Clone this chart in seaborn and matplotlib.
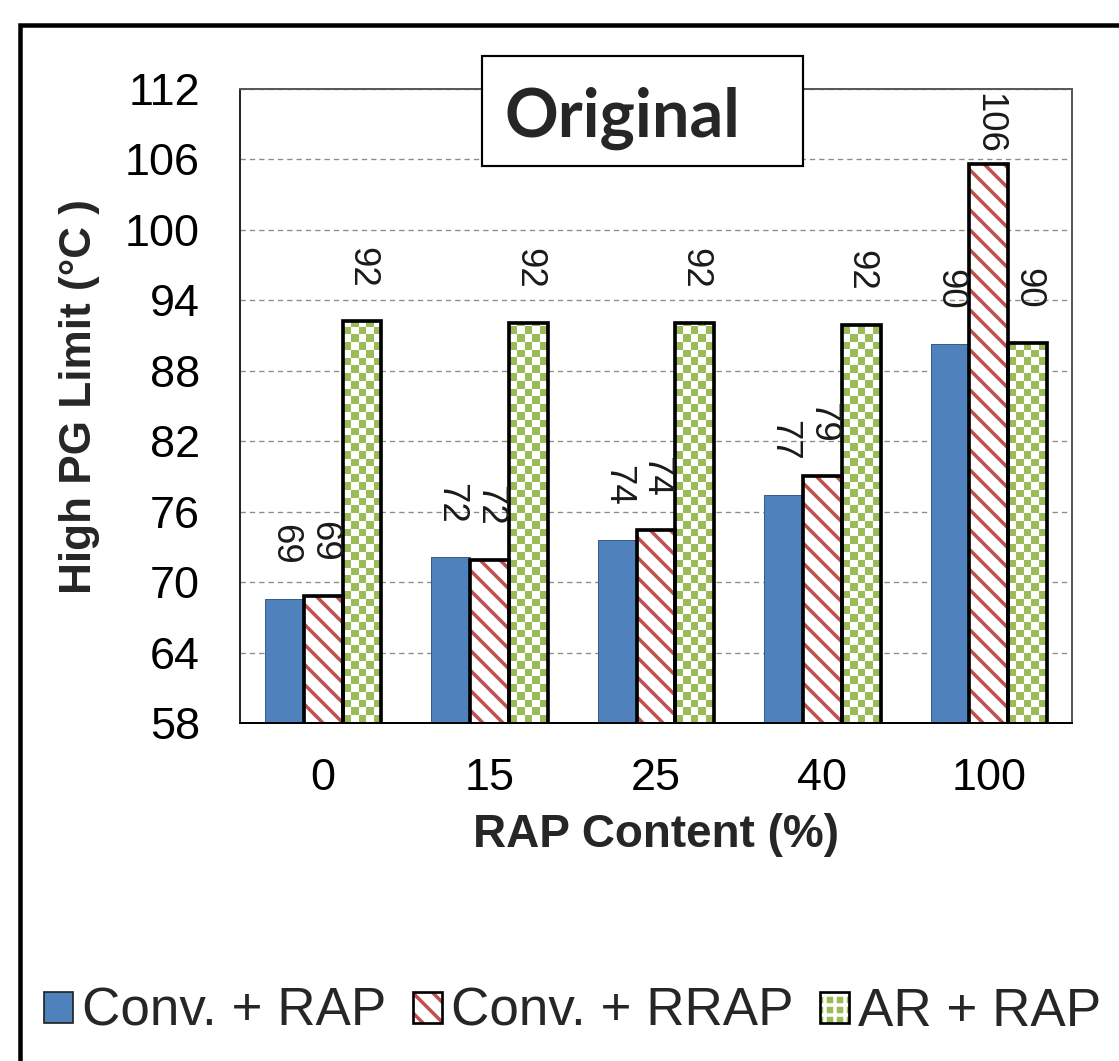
import numpy as np
import pandas as pd
import matplotlib
matplotlib.use("Agg")
import matplotlib.pyplot as plt
from matplotlib.patches import Rectangle, Patch
from matplotlib.legend_handler import HandlerTuple
import seaborn as sns

# ---- data -------------------------------------------------------------
rap_content = ["0", "15", "25", "40", "100"]
series_names = ["Conv. + RAP", "Conv. + RRAP", "AR + RAP"]
conv_rap = [68.6, 72.1, 73.6, 77.4, 90.3]
conv_rrap = [68.8, 71.9, 74.4, 79.0, 105.6]
ar_rap = [92.2, 92.1, 92.1, 91.9, 90.4]
y_ticks = [58, 64, 70, 76, 82, 88, 94, 100, 106, 112]

BLUE = "#4F81BD"
RED = "#C0504D"
GREEN = "#9BBB59"

df = pd.DataFrame({
    "rap": rap_content * 3,
    "limit": conv_rap + conv_rrap + ar_rap,
    "series": [s for s in series_names for _ in rap_content],
})

# ---- figure -----------------------------------------------------------
sns.set_theme(style="white")
plt.rcParams["font.family"] = ["Liberation Sans", "DejaVu Sans"]
plt.rcParams["hatch.linewidth"] = 2.1

DPI = 120
W, H = 1119, 1061
fig = plt.figure(figsize=(W / DPI, H / DPI), dpi=DPI)
fig.patch.set_facecolor("white")

def fx(px):
    return px / W

def fy(py):
    return 1 - py / H

ax = fig.add_axes([fx(240), fy(723), fx(832), (723 - 89) / H])

sns.barplot(data=df, x="rap", y="limit", hue="series", order=rap_content,
            hue_order=series_names, palette=[BLUE, RED, GREEN],
            width=0.7, saturation=1, legend=False, ax=ax, zorder=2)

ax.set_ylim(y_ticks[0], y_ticks[-1])
ax.set_xlim(-0.5, len(rap_content) - 0.5)
ax.set_yticks(y_ticks)
ax.set_xlabel("")
ax.set_ylabel("")
ax.tick_params(axis="both", length=0, labelsize=27, colors="black")
ax.tick_params(axis="y", pad=24)
ax.tick_params(axis="x", pad=21)
ax.set_axisbelow(True)
ax.yaxis.grid(True, linestyle=(0, (4, 3)), color="#8c8c8c", linewidth=0.8)
ax.xaxis.grid(False)
for name, sp in ax.spines.items():
    sp.set_visible(True)
    sp.set_color("#595959")
    sp.set_linewidth(1.2)
ax.spines["bottom"].set_color("black")
ax.spines["left"].set_color("#262626")

blue_c, red_c, green_c = ax.containers[:3]

# solid bars
for bar in blue_c:
    bar.set_facecolor(BLUE)
    bar.set_edgecolor("#385D8A")
    bar.set_linewidth(0.6)

# diagonal-striped bars: red stripes, black outline on top
for bar in red_c:
    bar.set_facecolor("white")
    bar.set_edgecolor(RED)
    bar.set_hatch("\\\\")
    bar.set_linewidth(0)
    ax.add_patch(Rectangle(bar.get_xy(), bar.get_width(), bar.get_height(),
                           fill=False, edgecolor="black", linewidth=2.2, zorder=3))

# checkerboard bars
px_per_unit_y = 634 / (y_ticks[-1] - y_ticks[0])
for bar in green_c:
    x0, w = bar.get_x(), bar.get_width()
    top = bar.get_height()
    bar.set_facecolor("white")
    bar.set_edgecolor("none")
    bar.set_linewidth(0)
    nx = 5
    sq_px = w * 832 / len(rap_content) / nx
    dy = sq_px / px_per_unit_y
    ny = int(np.ceil((top - y_ticks[0]) / dy))
    checker = (np.add.outer(np.arange(ny), np.arange(nx)) % 2).astype(float)
    rgb = np.where(checker[..., None] == 0,
                   np.array(matplotlib.colors.to_rgb(GREEN)),
                   np.array([1.0, 1.0, 1.0]))
    im = ax.imshow(rgb, extent=(x0, x0 + w, y_ticks[0], y_ticks[0] + ny * dy),
                   origin="lower", aspect="auto", interpolation="nearest", zorder=2.5)
    im.set_clip_path(bar)
    ax.add_patch(Rectangle((x0, 0), w, top, fill=False, edgecolor="black",
                           linewidth=2.2, zorder=3))

ax.set_ylim(y_ticks[0], y_ticks[-1])
ax.set_xlim(-0.5, len(rap_content) - 0.5)

# value labels, kept inside the plot area
labels = []
for cont in (blue_c, red_c, green_c):
    for bar in cont:
        v = bar.get_height()
        t = ax.annotate(f"{v:.0f}", (bar.get_x() + bar.get_width() / 2, v),
                        xytext=(0, 34), textcoords="offset pixels",
                        rotation=270, ha="center", va="bottom",
                        fontsize=22, color="#1a1a1a", zorder=4)
        labels.append(t)

fig.canvas.draw()
renderer = fig.canvas.get_renderer()
ax_top = ax.get_window_extent(renderer).y1
for t in labels:
    ext = t.get_window_extent(renderer)
    over = ext.y1 - (ax_top - 4)
    if over > 0:
        t.xyann = (0, 34 - over)

# axis titles
fig.text(fx(656), fy(835), "RAP Content (%)", ha="center", va="center",
         fontsize=27.5, fontweight="bold")
fig.text(fx(80), fy(397), "High PG Limit (°C )", ha="center", va="center",
         rotation=90, fontsize=26.5, fontweight="bold")

# title box
fig.patches.append(Rectangle((fx(482), fy(166)), fx(321), 110 / H,
                             transform=fig.transFigure, facecolor="white",
                             edgecolor="black", linewidth=1.3, zorder=5))
fig.text(fx(622), fy(137), "Original", ha="center", va="baseline",
         fontsize=40, fontweight="bold", family=["Lato", "DejaVu Sans"], zorder=6)

# outer frame
fig.patches.append(Rectangle((fx(19.5), -0.1), 1.2, fy(25) + 0.1,
                             transform=fig.transFigure, fill=False,
                             edgecolor="black", linewidth=2.7, zorder=5))

# legend
h_blue = Patch(facecolor=BLUE, edgecolor="#1f1f1f", linewidth=1.0)
h_red = (Patch(facecolor="white", edgecolor=RED, hatch="\\\\", linewidth=0),
         Patch(fill=False, edgecolor="black", linewidth=1.6))
h_green = (Patch(facecolor=GREEN, edgecolor="white", hatch="++", linewidth=0),
           Patch(fill=False, edgecolor="black", linewidth=1.6))
fig.legend([h_blue, h_red, h_green], series_names,
           handler_map={tuple: HandlerTuple(ndivide=1)},
           loc="center left", bbox_to_anchor=(fx(44), fy(1012)),
           ncol=3, frameon=False, fontsize=31.8, borderpad=0, borderaxespad=0,
           handlelength=0.55, handleheight=0.52, handletextpad=0.17,
           columnspacing=0.5)

fig.savefig("out.png", dpi=DPI)
